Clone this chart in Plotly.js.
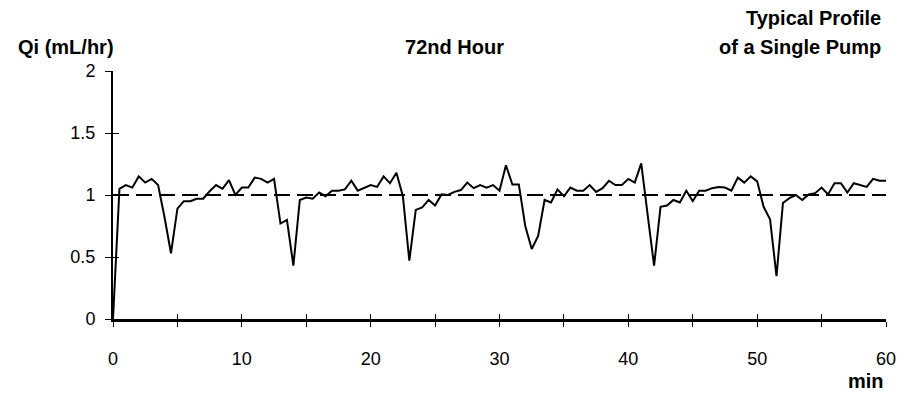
<!DOCTYPE html>
<html>
<head>
<meta charset="utf-8">
<script src="https://cdn.plot.ly/plotly-3.0.1.min.js"></script>
<style>html,body{margin:0;padding:0;background:#fff;}#chart{width:909px;height:398px;}</style>
</head>
<body>
<div id="chart"></div>
<script>
// Time (min), sampled every half minute
const minutes = [0,0.5,1,1.5,2,2.5,3,3.5,4,4.5,5,5.5,6,6.5,7,7.5,8,8.5,9,9.5,
  10,10.5,11,11.5,12,12.5,13,13.5,14,14.5,15,15.5,16,16.5,17,17.5,18,18.5,19,19.5,
  20,20.5,21,21.5,22,22.5,23,23.5,24,24.5,25,25.5,26,26.5,27,27.5,28,28.5,29,29.5,
  30,30.5,31,31.5,32,32.5,33,33.5,34,34.5,35,35.5,36,36.5,37,37.5,38,38.5,39,39.5,
  40,40.5,41,41.5,42,42.5,43,43.5,44,44.5,45,45.5,46,46.5,47,47.5,48,48.5,49,49.5,
  50,50.5,51,51.5,52,52.5,53,53.5,54,54.5,55,55.5,56,56.5,57,57.5,58,58.5,59,59.5,60];
// Qi (mL/hr)
const flowRate = [0,1.05,1.08,1.06,1.15,1.10,1.13,1.08,0.82,0.53,
  0.89,0.95,0.95,0.97,0.97,1.03,1.08,1.05,1.12,1.00,
  1.06,1.06,1.14,1.13,1.10,1.13,0.77,0.80,0.43,0.96,
  0.98,0.97,1.02,0.99,1.035,1.035,1.045,1.115,1.035,1.06,
  1.08,1.065,1.15,1.095,1.18,0.99,0.47,0.88,0.90,0.96,
  0.915,1.005,1.0,1.025,1.04,1.10,1.055,1.08,1.06,1.08,
  1.035,1.24,1.085,1.085,0.75,0.565,0.67,0.96,0.94,1.045,
  0.99,1.06,1.035,1.035,1.08,1.025,1.055,1.115,1.08,1.08,
  1.13,1.10,1.255,0.84,0.43,0.905,0.915,0.96,0.94,1.035,
  0.95,1.035,1.035,1.055,1.065,1.06,1.035,1.14,1.10,1.15,
  1.11,0.905,0.805,0.345,0.935,0.975,1.0,0.96,1.005,1.015,
  1.06,1.005,1.095,1.095,1.02,1.095,1.08,1.065,1.13,1.115,1.115];
// Reference (target) rate
const refX = [0, 60];
const refY = [1, 1];
// Axis ticks
const xTickVals = [0,5,10,15,20,25,30,35,40,45,50,55,60];
const xTickText = ['0','','10','','20','','30','','40','','50','','60'];
const yTickVals = [0,0.5,1,1.5,2];
const yTickText = ['0','0.5','1','1.5','2'];

const FONT = 'Liberation Sans, Arial, sans-serif';
const TITLE_SIZE = 20;
const TICK_SIZE = 18;

const traces = [
  {x: refX, y: refY, xaxis: 'x2', yaxis: 'y2', mode: 'lines',
   line: {color: '#000', width: 2, dash: '16px,7px'}, hoverinfo: 'skip', showlegend: false},
  {x: minutes, y: flowRate, mode: 'lines', line: {color: '#000', width: 2},
   showlegend: false}
];

const layout = {
  width: 909, height: 398,
  margin: {l: 113, r: 23, t: 71, b: 79},
  paper_bgcolor: '#fff', plot_bgcolor: '#fff',
  font: {family: FONT, size: TICK_SIZE, color: '#000'},
  showlegend: false,
  title: {text: '<b>72nd Hour</b>', font: {family: FONT, size: TITLE_SIZE, color: '#000'},
          x: 0.5, xref: 'container', xanchor: 'center', y: 1 - 47/398, yanchor: 'middle'},
  xaxis: {range: [0, 60], tickmode: 'array', tickvals: xTickVals, ticktext: xTickText,
          ticks: 'outside', ticklen: 5, tickwidth: 1, tickcolor: '#000',
          showline: true, linecolor: '#000', linewidth: 2.5, showgrid: false, zeroline: false,
          ticklabelstandoff: 17, tickfont: {family: FONT, size: TICK_SIZE, color: '#000'}},
  yaxis: {range: [0, 2], tickmode: 'array', tickvals: yTickVals, ticktext: yTickText,
          ticks: 'outside', ticklen: 6, tickwidth: 1, tickcolor: '#000',
          showline: true, linecolor: '#000', linewidth: 2, showgrid: false, zeroline: false,
          ticklabelstandoff: 6, tickfont: {family: FONT, size: TICK_SIZE, color: '#000'}},
  xaxis2: {range: [0, 60], overlaying: 'x', anchor: 'y2', tickmode: 'array', tickvals: xTickVals,
           ticks: 'inside', ticklen: 5, tickwidth: 1, tickcolor: '#000', showticklabels: false,
           showline: false, showgrid: false, zeroline: false},
  yaxis2: {range: [0, 2], overlaying: 'y', anchor: 'x2', tickmode: 'array', tickvals: yTickVals,
           ticks: 'inside', ticklen: 6, tickwidth: 1, tickcolor: '#000', showticklabels: false,
           showline: false, showgrid: false, zeroline: false},
  annotations: [
    {text: '<b>Qi (mL/hr)</b>', xref: 'paper', yref: 'paper', x: 0, y: 1,
     xanchor: 'center', yanchor: 'middle', xshift: -47, yshift: 24, showarrow: false,
     font: {family: FONT, size: TITLE_SIZE, color: '#000'}},
    {text: '<b>Typical Profile</b>', xref: 'paper', yref: 'paper', x: 1, y: 1,
     xanchor: 'right', yanchor: 'middle', xshift: -3, yshift: 53, showarrow: false,
     font: {family: FONT, size: TITLE_SIZE, color: '#000'}},
    {text: '<b>of a Single Pump</b>', xref: 'paper', yref: 'paper', x: 1, y: 1,
     xanchor: 'right', yanchor: 'middle', xshift: -3, yshift: 24, showarrow: false,
     font: {family: FONT, size: TITLE_SIZE, color: '#000'}},
    {text: '<b>min</b>', xref: 'paper', yref: 'paper', x: 1, y: 0,
     xanchor: 'right', yanchor: 'middle', xshift: 0, yshift: -62, showarrow: false,
     font: {family: FONT, size: TITLE_SIZE, color: '#000'}}
  ]
};

Plotly.newPlot('chart', traces, layout, {staticPlot: true, displayModeBar: false});
</script>
</body>
</html>
